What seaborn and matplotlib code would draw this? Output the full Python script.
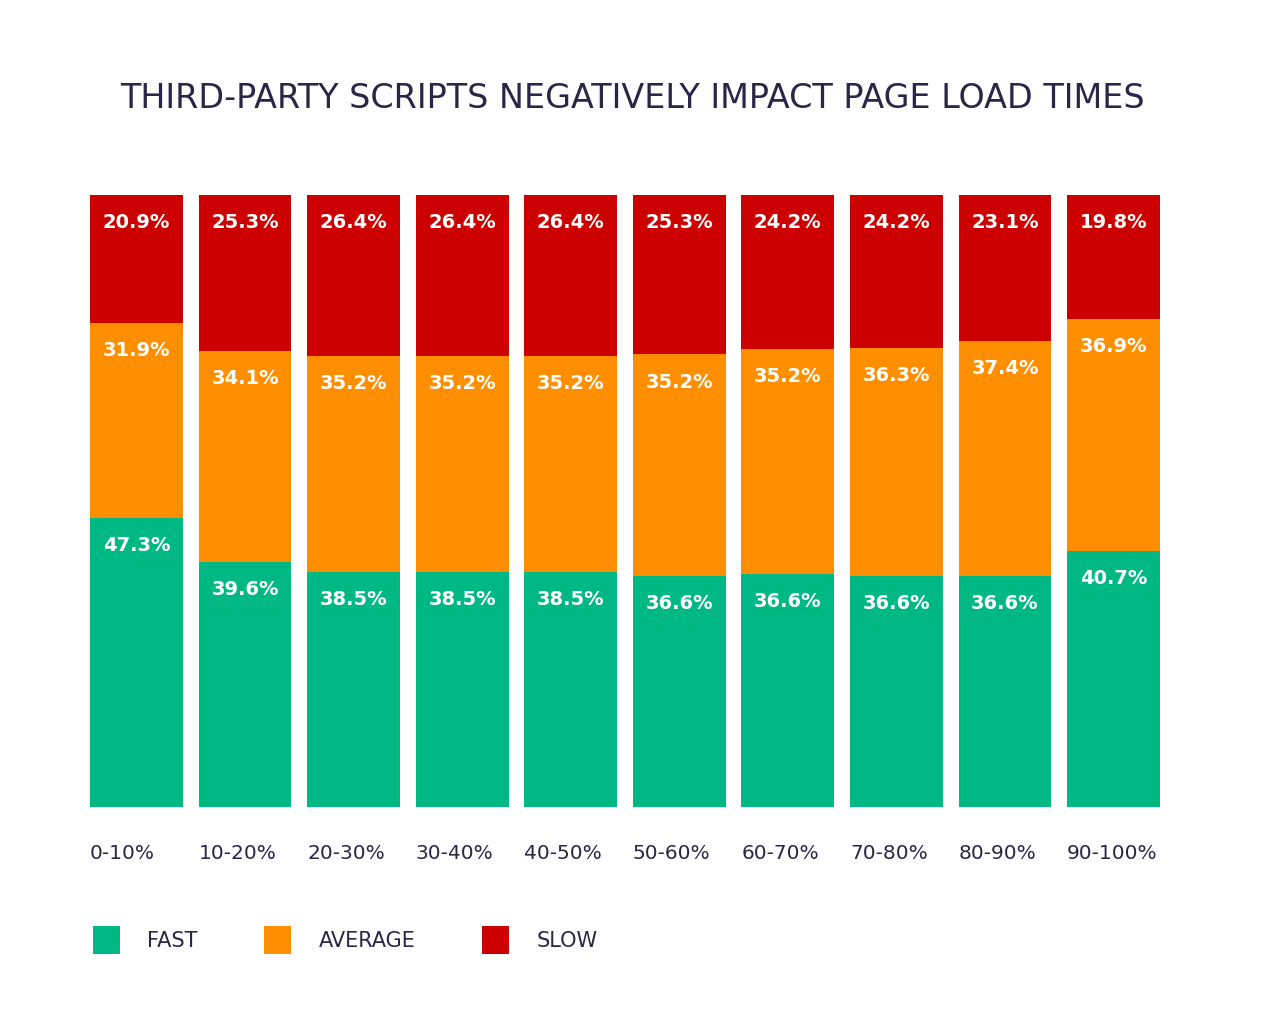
import numpy as np
import pandas as pd
import matplotlib
matplotlib.use("Agg")
import matplotlib.pyplot as plt
import seaborn as sns

# data
ranges = ["0-10%", "10-20%", "20-30%", "30-40%", "40-50%",
          "50-60%", "60-70%", "70-80%", "80-90%", "90-100%"]
fast = [47.3, 39.6, 38.5, 38.5, 38.5, 36.6, 36.6, 36.6, 36.6, 40.7]
average = [31.9, 34.1, 35.2, 35.2, 35.2, 35.2, 35.2, 36.3, 37.4, 36.9]
slow = [20.9, 25.3, 26.4, 26.4, 26.4, 25.3, 24.2, 24.2, 23.1, 19.8]

colors = {"FAST": "#00b884", "AVERAGE": "#ff8f00", "SLOW": "#cc0000"}
text_color = "#2c2547"

sns.set_theme(style="white")
plt.rcParams["font.family"] = ["DejaVu Sans"]

df = pd.DataFrame({"range": ranges, "FAST": fast, "AVERAGE": average, "SLOW": slow})
# bars fill the full height, so scale each column to its own total
totals = df[["FAST", "AVERAGE", "SLOW"]].sum(axis=1)
for col in ["FAST", "AVERAGE", "SLOW"]:
    df[col + "_n"] = df[col] / totals * 100

fig = plt.figure(figsize=(12.8, 10.32), dpi=100)
ax = fig.add_axes([90 / 1280, 225 / 1032, 1070 / 1280, 612 / 1032])

width = 0.856
x = np.arange(len(ranges))
bottom = np.zeros(len(ranges))
handles = []
for col in ["FAST", "AVERAGE", "SLOW"]:
    heights = df[col + "_n"].values
    bars = ax.bar(x, heights, width=width, bottom=bottom, color=colors[col],
                  label=col, linewidth=0)
    handles.append(bars)
    for xi, b, h, v in zip(x, bottom, heights, df[col].values):
        ax.text(xi, b + h - 4.5, f"{v:.1f}%", ha="center", va="center",
                color="white", fontsize=14, fontweight="bold")
    bottom = bottom + heights

ax.set_xlim(-width / 2, len(ranges) - 1 + width / 2)
ax.set_ylim(0, 100)
ax.set_yticks([])
ax.set_xticks(x - width / 2)
ax.set_xticklabels(ranges, ha="left", fontsize=14.5, color=text_color)
ax.tick_params(axis="x", length=0, pad=26.5)
sns.despine(ax=ax, left=True, bottom=True)

fig.text(632 / 1280, 1 - 98 / 1032, "THIRD-PARTY SCRIPTS NEGATIVELY IMPACT PAGE LOAD TIMES",
         ha="center", va="center", fontsize=24, color=text_color)

leg = fig.legend(handles=handles, labels=["FAST", "AVERAGE", "SLOW"],
                 loc="center left", bbox_to_anchor=(93 / 1280, 1 - 940 / 1032),
                 ncol=3, frameon=False, fontsize=15, handlelength=1.3,
                 handleheight=1.7, handletextpad=1.3, columnspacing=3.2,
                 borderpad=0, borderaxespad=0)
for t in leg.get_texts():
    t.set_color(text_color)

fig.savefig("out.png", dpi=100, facecolor="white")
